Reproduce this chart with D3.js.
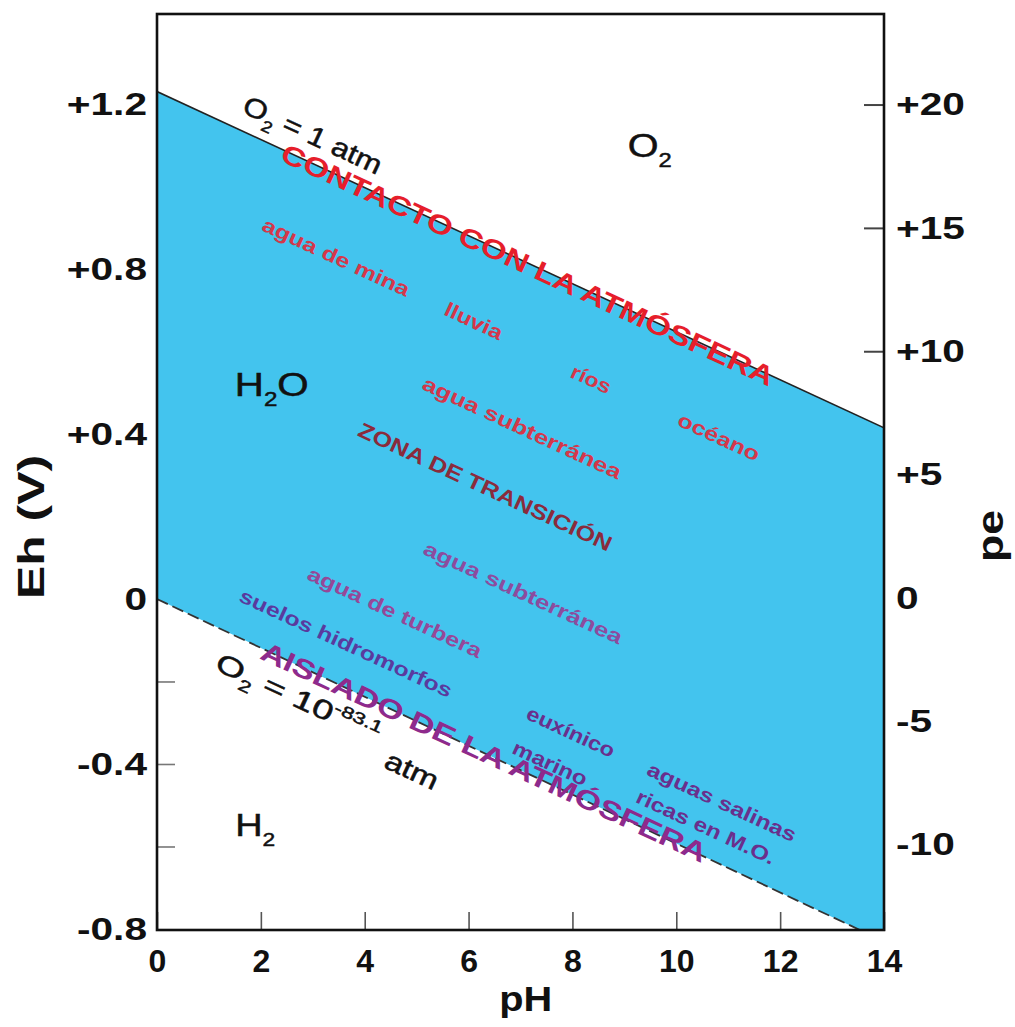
<!DOCTYPE html>
<html>
<head>
<meta charset="utf-8">
<script src="https://cdn.jsdelivr.net/npm/d3@7"></script>
<style>
  body { margin: 0; background: #ffffff; }
  text { font-family: "Liberation Sans", Arial, Helvetica, sans-serif; }
</style>
</head>
<body>
<svg id="chart" width="1015" height="1027"></svg>
<script>
// ---------------- data ----------------
const phDomain = [0, 14];
const ehDomain = [-0.8, 1.418];
const peDomain = [-13.42, 23.67];

const phTicks = [0, 2, 4, 6, 8, 10, 12, 14];
const ehTicks = [1.2, 0.8, 0.4, 0, -0.4, -0.8];
const ehTickLabels = ["+1.2", "+0.8", "+0.4", "0", "-0.4", "-0.8"];
const ehInnerTicks = [1.2, 1.0, 0.8, 0.6, 0.4, 0.2, 0, -0.2, -0.4, -0.6];
const peTicks = [20, 15, 10, 5, 0, -5, -10];
const peTickLabels = ["+20", "+15", "+10", "+5", "0", "-5", "-10"];

// water stability field boundaries (pH vs Eh)
const boundaryPH = [0, 14];
const upperEh = [1.23, 0.415];   // O2 = 1 atm
const lowerEh = [0, -0.83];      // O2 = 10^-83.1 atm

// ---------------- layout ----------------
const svg = d3.select("#chart");
const plot = { left: 157, right: 884, top: 14, bottom: 929 };

const x = d3.scaleLinear().domain(phDomain).range([plot.left, plot.right]);
const y = d3.scaleLinear().domain(ehDomain).range([plot.bottom, plot.top]);
const yPe = d3.scaleLinear().domain(peDomain).range([plot.bottom, plot.top]);

const boundary = boundaryPH.map((p, i) => ({ ph: p, up: upperEh[i], lo: lowerEh[i] }));
const angle = Math.atan2(y(upperEh[1]) - y(upperEh[0]), x(boundaryPH[1]) - x(boundaryPH[0])) * 180 / Math.PI;

svg.append("defs").append("clipPath").attr("id", "plotclip")
  .append("rect")
  .attr("x", plot.left).attr("y", plot.top)
  .attr("width", plot.right - plot.left).attr("height", plot.bottom - plot.top);

// ---------------- ticks (drawn below the field) ----------------
function stretch(sel, k) {
  sel.each(function () {
    const L = this.getComputedTextLength();
    d3.select(this).attr("textLength", L * k).attr("lengthAdjust", "spacingAndGlyphs");
  });
}

// left inner ticks
svg.append("g")
  .attr("transform", `translate(${plot.left},0)`)
  .call(d3.axisRight(y).tickValues(ehInnerTicks).tickSize(18).tickFormat(""))
  .call(g => g.select(".domain").remove())
  .call(g => g.selectAll("line").attr("stroke", "#777").attr("stroke-width", 1.6));

// left labels
const leftAxis = svg.append("g")
  .attr("transform", `translate(${plot.left},0)`)
  .call(d3.axisLeft(y).tickValues(ehTicks).tickSize(0).tickPadding(10)
    .tickFormat((d, i) => ehTickLabels[i]))
  .call(g => g.select(".domain").remove());
leftAxis.selectAll("text")
  .attr("font-size", 32).attr("font-weight", "bold").attr("fill", "#111")
  .attr("font-family", "Liberation Sans, Arial, sans-serif");
stretch(leftAxis.selectAll("text"), 1.27);

// right axis (pe)
const rightAxis = svg.append("g")
  .attr("transform", `translate(${plot.right},0)`)
  .call(d3.axisRight(yPe).tickValues(peTicks).tickSize(-20).tickPadding(12)
    .tickFormat((d, i) => peTickLabels[i]))
  .call(g => g.select(".domain").remove());
rightAxis.selectAll("line").attr("stroke", "#444").attr("stroke-width", 2);
rightAxis.selectAll("text")
  .attr("font-size", 32).attr("font-weight", "bold").attr("fill", "#111")
  .attr("font-family", "Liberation Sans, Arial, sans-serif");
stretch(rightAxis.selectAll("text"), 1.27);

// bottom axis (pH)
const bottomAxis = svg.append("g")
  .attr("transform", `translate(0,${plot.bottom + 2})`)
  .call(d3.axisBottom(x).tickValues(phTicks).tickSize(-19).tickPadding(18))
  .call(g => g.select(".domain").remove());
bottomAxis.selectAll("line").attr("stroke", "#555").attr("stroke-width", 1.6);
bottomAxis.selectAll("text")
  .attr("font-size", 32).attr("font-weight", "bold").attr("fill", "#111")
  .attr("font-family", "Liberation Sans, Arial, sans-serif");

// ---------------- water stability field ----------------
const field = svg.append("g").attr("clip-path", "url(#plotclip)");
field.append("path")
  .datum(boundary)
  .attr("fill", "#43c4ee")
  .attr("d", d3.area().x(d => x(d.ph)).y0(d => y(d.lo)).y1(d => y(d.up)));

field.append("path")
  .datum(boundary)
  .attr("fill", "none").attr("stroke", "#222").attr("stroke-width", 1.6)
  .attr("d", d3.line().x(d => x(d.ph)).y(d => y(d.up)));

field.append("path")
  .datum(boundary)
  .attr("fill", "none").attr("stroke", "#333").attr("stroke-width", 1.8)
  .attr("stroke-dasharray", "12,5")
  .attr("d", d3.line().x(d => x(d.ph)).y(d => y(d.lo)));

// ---------------- annotations ----------------
const annotations = [
  { parts: [["O"], ["2", "sub"], [" = 1 atm"]], ph: 3.0, eh: 1.125, rot: true, size: 27, weight: "normal", color: "#111", len: 150 },
  { parts: [["CONTACTO CON LA ATMÓSFERA"]], ph: 7.14, eh: 0.81, rot: true, size: 27, weight: "bold", color: "#e61e2b", len: 540 },
  { parts: [["agua de mina"]], ph: 3.45, eh: 0.829, rot: true, size: 20, weight: "bold", color: "#d4374a", len: 160 },
  { parts: [["lluvia"]], ph: 6.10, eh: 0.674, rot: true, size: 20, weight: "bold", color: "#d4374a", len: 62 },
  { parts: [["ríos"]], ph: 8.36, eh: 0.533, rot: true, size: 20, weight: "bold", color: "#d4374a", len: 42 },
  { parts: [["océano"]], ph: 10.82, eh: 0.393, rot: true, size: 20, weight: "bold", color: "#d4374a", len: 88 },
  { parts: [["agua subterránea"]], ph: 7.03, eh: 0.415, rot: true, size: 20, weight: "bold", color: "#d4374a", len: 217 },
  { parts: [["ZONA DE TRANSICIÓN"]], ph: 6.32, eh: 0.272, rot: true, size: 21, weight: "bold", color: "#8a2b3c", len: 277 },
  { parts: [["agua subterránea"]], ph: 7.05, eh: 0.015, rot: true, size: 20, weight: "bold", color: "#8c4c9e", len: 217 },
  { parts: [["agua de turbera"]], ph: 4.58, eh: -0.032, rot: true, size: 20, weight: "bold", color: "#964898", len: 190 },
  { parts: [["suelos hidromorfos"]], ph: 3.64, eh: -0.107, rot: true, size: 20, weight: "bold", color: "#5a3a9e", len: 232 },
  { parts: [["AISLADO DE LA ATMÓSFERA"]], ph: 6.30, eh: -0.371, rot: true, size: 27, weight: "bold", color: "#8e2a8c", len: 488 },
  { parts: [["O"], ["2", "sub"], [" = 10"], ["-83.1", "sup"]], ph: 2.72, eh: -0.24, rot: true, size: 27, weight: "normal", color: "#111", len: 178 },
  { parts: [["atm"]], ph: 4.91, eh: -0.415, rot: true, size: 27, weight: "normal", color: "#111", len: 56 },
  { parts: [["euxínico"]], ph: 7.97, eh: -0.322, rot: true, size: 20, weight: "bold", color: "#6a2f8c", len: 95 },
  { parts: [["marino"]], ph: 7.57, eh: -0.398, rot: true, size: 20, weight: "bold", color: "#6a2f8c", len: 80 },
  { parts: [["aguas salinas"]], ph: 10.88, eh: -0.492, rot: true, size: 20, weight: "bold", color: "#6a2f8c", len: 162 },
  { parts: [["ricas en M.O."]], ph: 10.57, eh: -0.553, rot: true, size: 20, weight: "bold", color: "#6a2f8c", len: 151 },
  { parts: [["O"], ["2", "sub"]], ph: 9.49, eh: 1.10, rot: false, size: 33, weight: "normal", color: "#111", len: 44 },
  { parts: [["H"], ["2", "sub"], ["O"]], ph: 2.21, eh: 0.519, rot: false, size: 33, weight: "normal", color: "#111", len: 74 },
  { parts: [["H"], ["2", "sub"]], ph: 1.89, eh: -0.548, rot: false, size: 32, weight: "normal", color: "#111", len: 40 }
];

const labels = svg.append("g");
annotations.forEach(a => {
  const t = labels.append("text")
    .attr("transform", `translate(${x(a.ph)},${y(a.eh)}) rotate(${a.rot ? angle : 0})`)
    .attr("text-anchor", "middle")
    .attr("dy", "0.35em")
    .attr("font-size", a.size)
    .attr("font-weight", a.weight)
    .attr("fill", a.color);
  if (a.weight === "normal") t.attr("stroke", a.color).attr("stroke-width", 0.5);
  let shift = 0;
  a.parts.forEach(p => {
    const ts = t.append("tspan").text(p[0]);
    let target = 0;
    if (p[1] === "sub") { ts.attr("font-size", a.size * 0.6); target = a.size * 0.3; }
    if (p[1] === "sup") { ts.attr("font-size", a.size * 0.6); target = -a.size * 0.42; }
    if (target !== shift) { ts.attr("dy", target - shift); shift = target; }
  });
  if (a.len) t.attr("textLength", a.len).attr("lengthAdjust", "spacingAndGlyphs");
});

// ---------------- frame ----------------
svg.append("rect")
  .attr("x", plot.left).attr("y", plot.top)
  .attr("width", plot.right - plot.left).attr("height", plot.bottom - plot.top + 1)
  .attr("fill", "none").attr("stroke", "#111").attr("stroke-width", 2.6);

// ---------------- axis titles ----------------
svg.append("text")
  .attr("transform", "translate(44,527) rotate(-90)")
  .attr("text-anchor", "middle")
  .attr("font-size", 36).attr("font-weight", "bold").attr("fill", "#111")
  .attr("textLength", 144).attr("lengthAdjust", "spacingAndGlyphs")
  .text("Eh (V)");

svg.append("text")
  .attr("transform", "translate(1003,536) rotate(-90)")
  .attr("text-anchor", "middle")
  .attr("font-size", 36).attr("font-weight", "bold").attr("fill", "#111")
  .attr("textLength", 52).attr("lengthAdjust", "spacingAndGlyphs")
  .text("pe");

svg.append("text")
  .attr("x", x(7.1)).attr("y", 1011)
  .attr("text-anchor", "middle")
  .attr("font-size", 35).attr("font-weight", "bold").attr("fill", "#111")
  .attr("textLength", 53).attr("lengthAdjust", "spacingAndGlyphs")
  .text("pH");
</script>
</body>
</html>
